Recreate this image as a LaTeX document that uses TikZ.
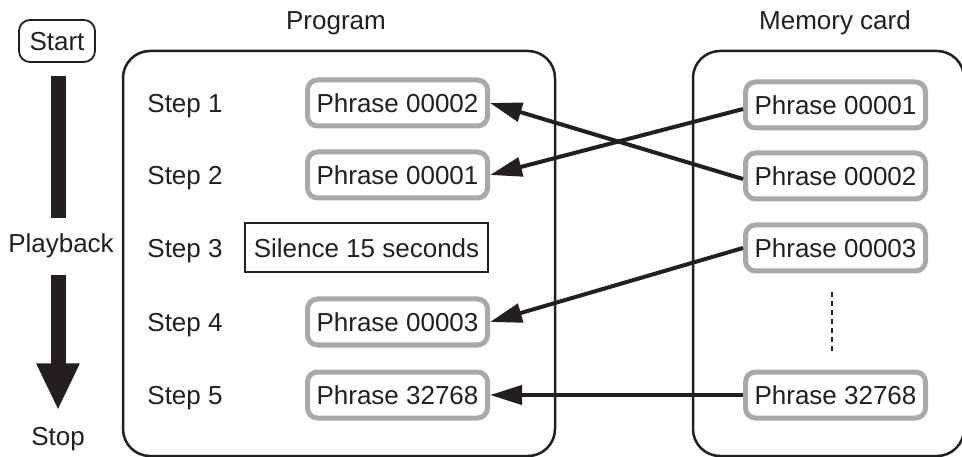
\documentclass[tikz,border=0pt]{standalone}
\usepackage{fontspec}
\setmainfont{Liberation Sans}
\usepackage{tikz}
\usetikzlibrary{
	arrows.meta,
	positioning
}
\definecolor{ink}{RGB}{35,31,32}
\definecolor{framegray}{RGB}{167,169,172}

\begin{document}
\begin{tikzpicture}[x=1pt, y=-1pt,
				txt/.style={
					font=\fontsize{26}{31}\selectfont, text=ink,
					text height=19pt, text depth=0pt, inner sep=0pt
				},
				graybox/.style={
					txt, rectangle, draw=framegray, line width=5pt, rounded corners=10pt,
					minimum width=180pt, minimum height=46pt
				},
				plainbox/.style={
					txt, rectangle, draw=ink, line width=2pt,
					minimum width=243pt, minimum height=49pt
				},
				startbox/.style={
					txt, rectangle, draw=ink, line width=1.8pt, rounded corners=11pt,
					minimum width=76pt, minimum height=42pt
				},
				arrow/.style={-{Triangle[length=32pt,width=19pt]}, line width=4pt, draw=ink},
				bar/.style={line width=15pt, draw=ink},
				frame/.style={draw=ink, line width=2.5pt, rounded corners=27pt},
				dots/.style={draw=ink, line width=1.5pt, dash pattern=on 5pt off 4pt},
				]
				\useasboundingbox (0,0) rectangle (962,457);
				
				%playback
				\node (start) at (57,41) [startbox] {Start};
				\node (play) at (61,243) [txt] {Playback};
				\node (stop) at (58,436) [txt] {Stop};
				\coordinate (bar1) at ([yshift=-13pt]start.south);
				\coordinate (bar2) at ([yshift=15pt]play.north);
				\coordinate (bar3) at ([yshift=-22pt]play.south);
				\coordinate (bar4) at ([yshift=16pt]stop.north);
				\draw[bar] (bar1 -| stop) -- (bar2 -| stop);
				\draw[bar, -{Triangle[length=47pt,width=40pt]}] (bar3 -| stop) -- (bar4);
				
				%program
				\node (progtitle) at (336,20) [txt] {Program};
				\draw[frame] (123,51) rectangle (555,456);
				
				\node (step1) at (185,103) [txt] {Step 1};
				\node (step2) at (185,175) [txt] {Step 2};
				\node (step3) at (185,248) [txt] {Step 3};
				\node (step4) at (185,322) [txt] {Step 4};
				\node (step5) at (185,395) [txt] {Step 5};
				
				\node (prog1) at (397.5,103) [graybox] {Phrase 00002};
				\node (prog2) at (397.5,175) [graybox] {Phrase 00001};
				\node (silence) at (366.5,248) [plainbox] {Silence 15 seconds};
				\node (prog4) at (397.5,322) [graybox] {Phrase 00003};
				\node (prog5) at (397.5,395) [graybox] {Phrase 32768};
				
				%memory card
				\node (memtitle) at (835,20) [txt] {Memory card};
				\draw[frame] (693,51) rectangle (964,456);
				
				\node (mem1) at (835.5,105) [graybox] {Phrase 00001};
				\node (mem2) at (835.5,176) [graybox] {Phrase 00002};
				\node (mem3) at (835.5,248) [graybox] {Phrase 00003};
				\node (mem5) at (835.5,395) [graybox] {Phrase 32768};
				\draw[dots, shorten <=19pt, shorten >=17pt] ([xshift=-3.5pt]mem3.south) -- ([xshift=-3.5pt]mem5.north);
				
				%links
				\draw[arrow] ([yshift=-3pt]mem2.west) -- (prog1.east);
				\draw[arrow] ([yshift=-4pt]mem1.west) -- (prog2.east);
				\draw[arrow] (mem3.west) -- (prog4.east);
				\draw[arrow] (mem5.west) -- (prog5.east);
			\end{tikzpicture}
\end{document}
